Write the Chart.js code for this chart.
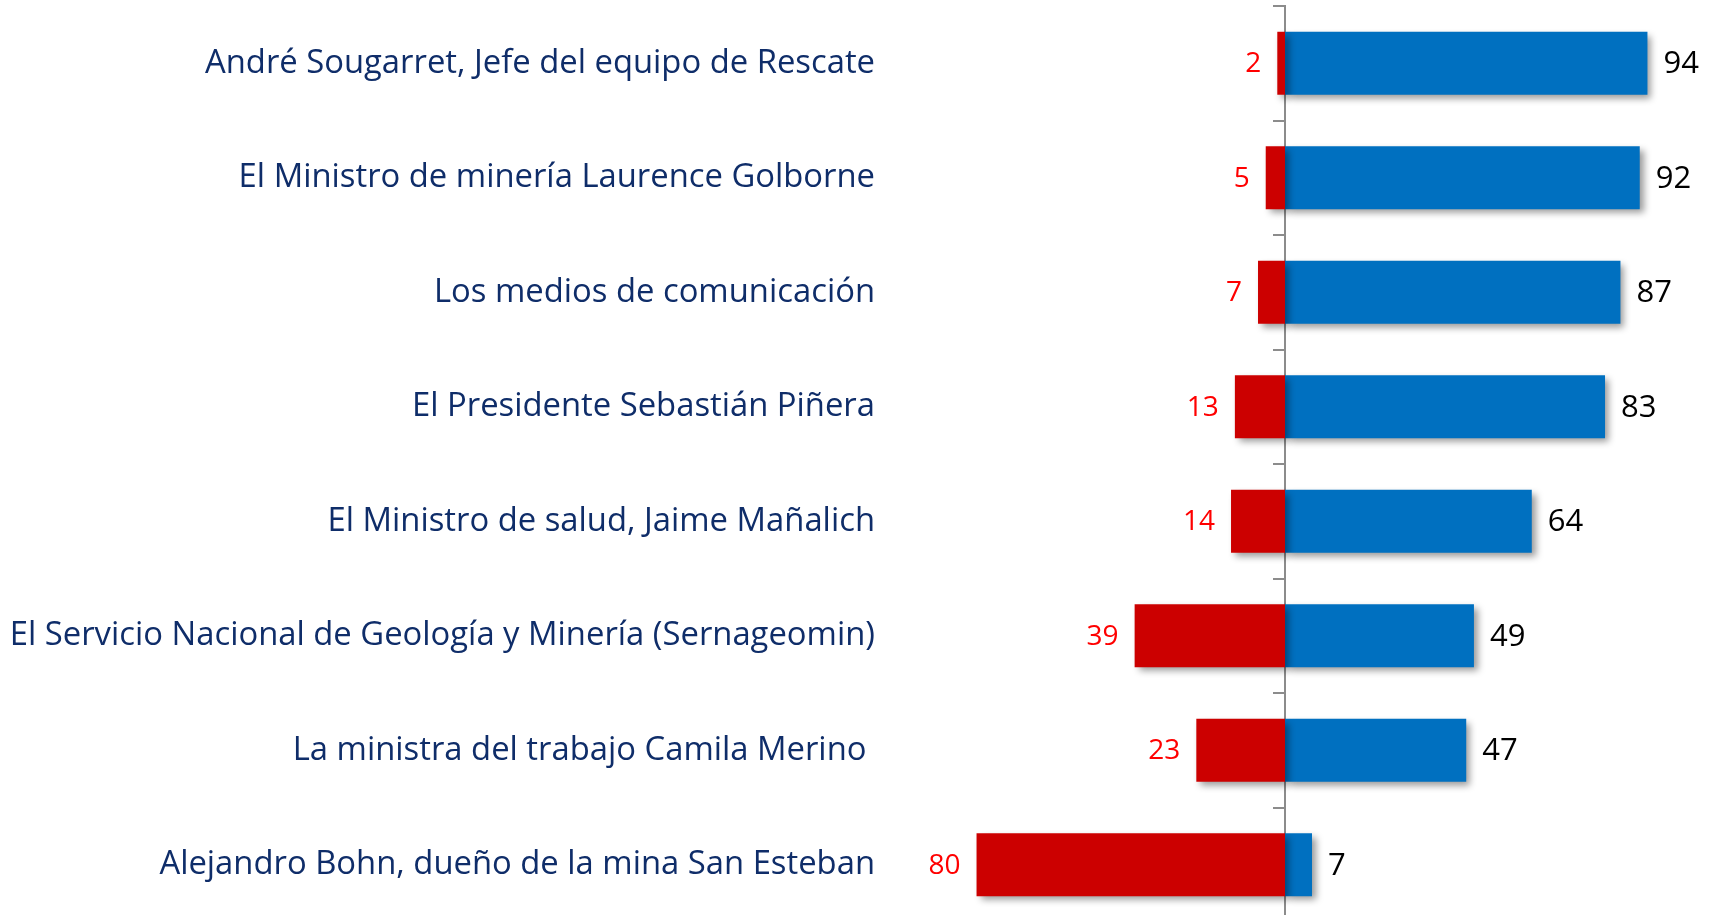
<!DOCTYPE html>
<html>
<head>
<meta charset="utf-8">
<script src="https://cdn.jsdelivr.net/npm/chart.js@4.4.1/dist/chart.umd.min.js"></script>
<style>
  html, body { margin: 0; padding: 0; background: #fff; overflow: hidden; }
  #wrap { position: relative; width: 1713px; height: 922px; }
</style>
</head>
<body>
<div id="wrap"><canvas id="chart"></canvas></div>
<script>
/* ===================== DATA ===================== */

const personas = [
  "André Sougarret, Jefe del equipo de Rescate",
  "El Ministro de minería Laurence Golborne",
  "Los medios de comunicación",
  "El Presidente Sebastián Piñera",
  "El Ministro de salud, Jaime Mañalich",
  "El Servicio Nacional de Geología y Minería (Sernageomin)",
  "La ministra del trabajo Camila Merino ",
  "Alejandro Bohn, dueño de la mina San Esteban"
];

const negativa = [2, 5, 7, 13, 14, 39, 23, 80];   // red, left of zero
const positiva = [94, 92, 87, 83, 64, 49, 47, 7]; // blue, right of zero

const xMin = -104;
const xMax = 111;

/* ===================== STYLE ===================== */

const FONT = "'Open Sans', 'Noto Sans', sans-serif";
const navy = "#0F2D69";

/* ===================== PLUGINS ===================== */

// soft drop shadow under the bars + value labels beside them
const barExtras = {
  id: "barExtras",
  beforeDatasetsDraw(chart) {
    const ctx = chart.ctx;
    ctx.save();
    ctx.shadowColor = "rgba(0,0,0,0.4)";
    ctx.shadowBlur = 7;
    ctx.shadowOffsetX = 4;
    ctx.shadowOffsetY = 4;
  },
  afterDatasetsDraw(chart) {
    const ctx = chart.ctx;
    ctx.restore();

    ctx.save();
    ctx.textBaseline = "middle";

    const negMeta = chart.getDatasetMeta(0);
    ctx.fillStyle = "#FF0000";
    ctx.font = "28px " + FONT;
    ctx.textAlign = "right";
    negMeta.data.forEach((bar, i) => {
      ctx.fillText(String(negativa[i]), bar.x - 16, bar.y + 1);
    });

    const posMeta = chart.getDatasetMeta(1);
    ctx.fillStyle = "#000000";
    ctx.font = "31px " + FONT;
    ctx.textAlign = "left";
    posMeta.data.forEach((bar, i) => {
      ctx.fillText(String(positiva[i]), bar.x + 16, bar.y + 1);
    });

    ctx.restore();
  }
};

/* ===================== CHART ===================== */

new Chart(document.getElementById("chart"), {
  type: "bar",
  data: {
    labels: personas,
    datasets: [
      {
        label: "Negativa",
        data: negativa.map(v => -v),
        backgroundColor: "#CC0000",
        barPercentage: 0.55,
        categoryPercentage: 1
      },
      {
        label: "Positiva",
        data: positiva,
        backgroundColor: "#0070C0",
        barPercentage: 0.55,
        categoryPercentage: 1
      }
    ]
  },
  options: {
    indexAxis: "y",
    responsive: true,
    maintainAspectRatio: false,
    animation: false,
    layout: { padding: { top: 6, left: 0, right: 0, bottom: 0 } },
    plugins: {
      legend: { display: false },
      tooltip: { enabled: false }
    },
    scales: {
      x: {
        stacked: true,
        min: xMin,
        max: xMax,
        display: false
      },
      y: {
        stacked: true,
        position: "left",
        grid: { display: false },
        border: { display: false },
        ticks: {
          color: navy,
          font: { family: FONT, size: 32.8 },
          padding: 1
        },
        afterFit(scale) {
          scale.width = 884;
          scale.paddingTop = 0;
          scale.paddingBottom = 0;
        }
      },
      y2: {
        type: "category",
        position: { x: 0 },
        offset: true,
        grid: {
          drawOnChartArea: false,
          color: "#8C8C8C",
          lineWidth: 2,
          tickLength: 11
        },
        border: { color: "#8C8C8C", width: 2 },
        ticks: { display: false },
        afterFit(scale) {
          scale.width = 0;
          scale.paddingTop = 0;
          scale.paddingBottom = 0;
        }
      }
    }
  },
  plugins: [barExtras]
});
</script>
</body>
</html>
